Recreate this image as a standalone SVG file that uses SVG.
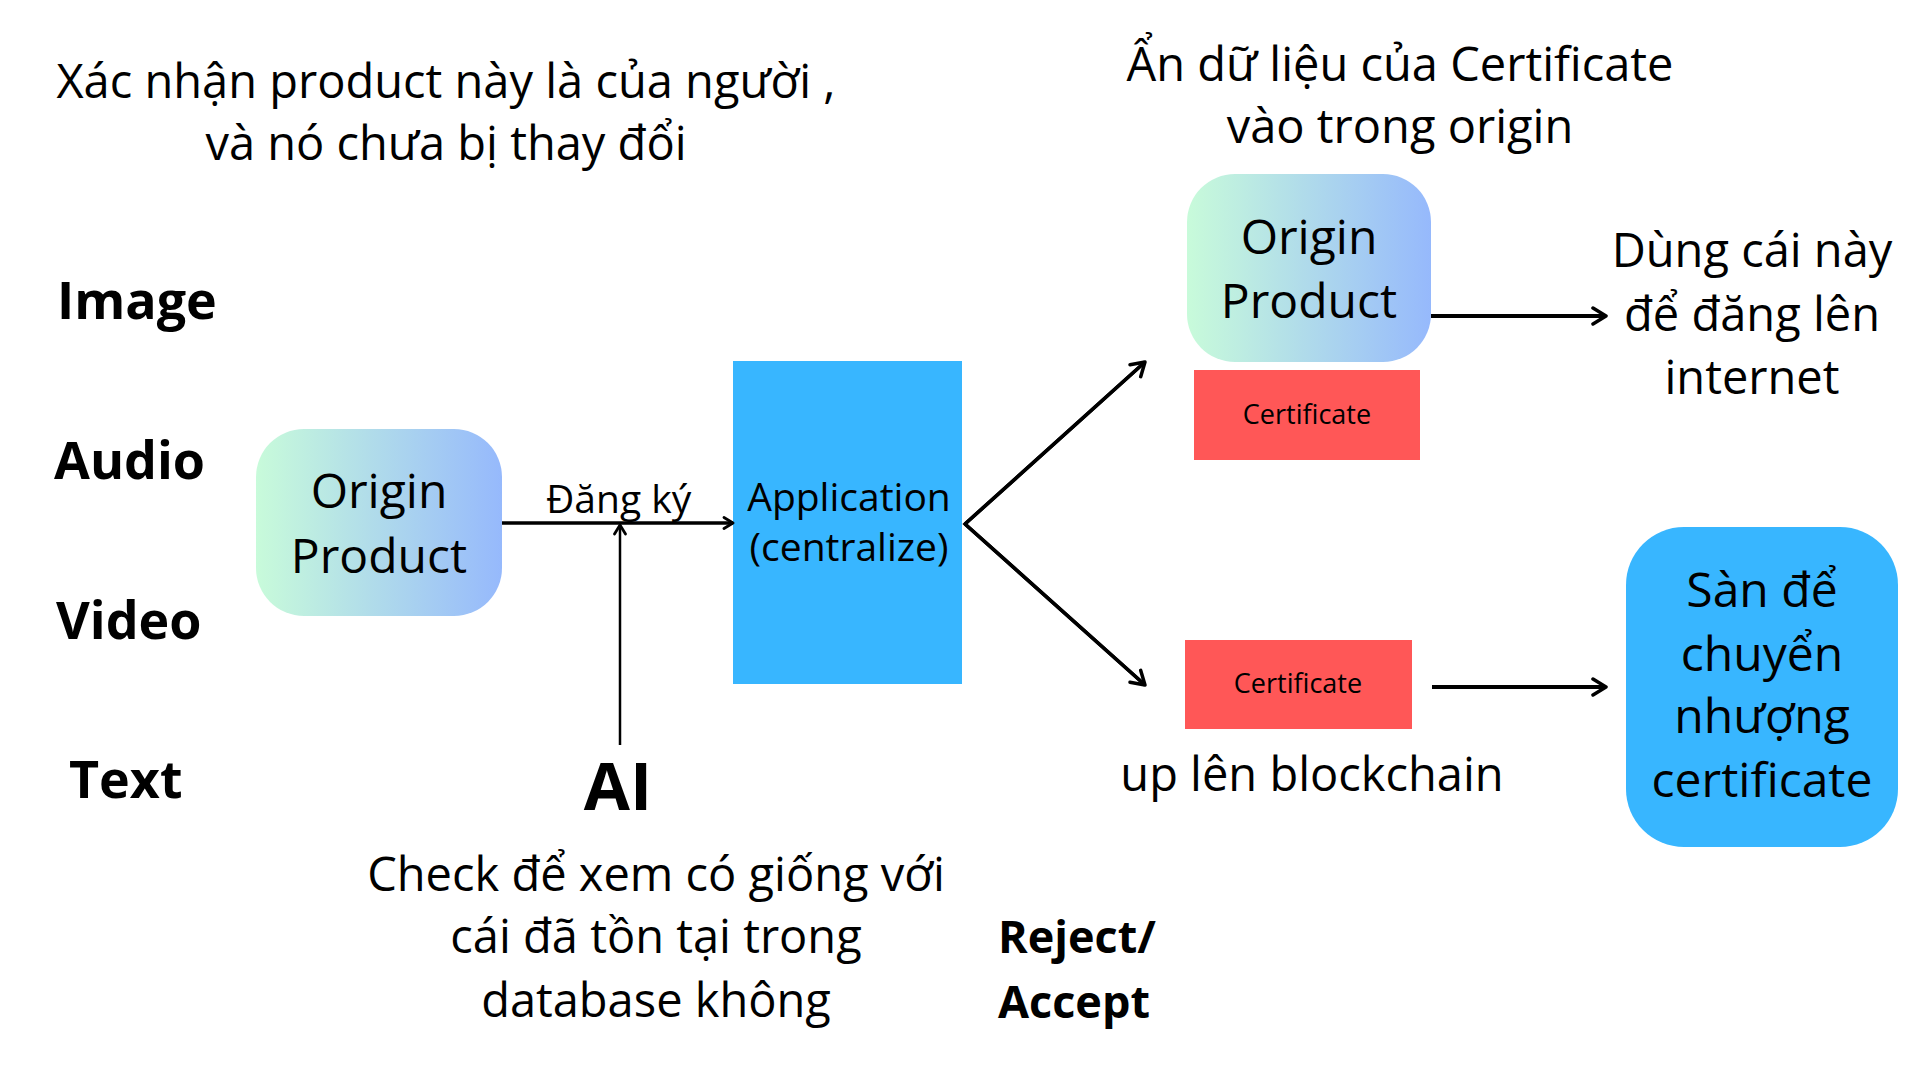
<svg xmlns="http://www.w3.org/2000/svg" width="1920" height="1080" viewBox="0 0 1920 1080">
<defs>
<linearGradient id="grad" x1="0" y1="0" x2="1" y2="0">
<stop offset="0" stop-color="#C8FBDA"/>
<stop offset="1" stop-color="#96B9FC"/>
</linearGradient>
<marker id="arr" viewBox="0 0 14 14" refX="12" refY="7" markerWidth="14" markerHeight="14" markerUnits="userSpaceOnUse" orient="auto">
<path d="M3,1.5 L12,7 L3,12.5" fill="none" stroke="#000" stroke-width="2.8" stroke-linecap="round" stroke-linejoin="round"/>
</marker>
<marker id="arrL" viewBox="0 0 20 20" refX="17" refY="10" markerWidth="20" markerHeight="20" markerUnits="userSpaceOnUse" orient="auto">
<path d="M4,2 L17,10 L4,18" fill="none" stroke="#000" stroke-width="3.5" stroke-linecap="round" stroke-linejoin="round"/>
</marker>
</defs>
<style>
text{font-family:"Open Sans","Noto Sans","DejaVu Sans",sans-serif;fill:#000}
.t{font-size:47px;text-anchor:middle}
.b{font-size:52px;font-weight:700}
.n{font-size:48px;text-anchor:middle}
.m{text-anchor:middle}
.c{font-size:27px;text-anchor:middle}
.ln{stroke:#000;fill:none}
</style>
<rect width="1920" height="1080" fill="#fff"/>
<g id="note-top-left">
<text class="t" x="446" y="98">Xác nhận product này là của người ,</text>
<text class="t" x="446" y="160">và nó chưa bị thay đổi</text>
</g>
<g id="note-top-right">
<text class="t" x="1400" y="81">Ẩn dữ liệu của Certificate</text>
<text class="t" x="1400" y="143">vào trong origin</text>
</g>
<g id="types">
<text class="b" x="57" y="319">Image</text>
<text class="b" x="54" y="479">Audio</text>
<text class="b" x="56" y="639">Video</text>
<text class="b" x="69" y="798">Text</text>
</g>
<g id="origin-left">
<rect x="256" y="429" width="246" height="187" rx="48" fill="url(#grad)"/>
<text class="n" x="379" y="508">Origin</text>
<text class="n" x="379" y="573">Product</text>
</g>
<g id="label-dang-ky">
<text style="font-size:39px" x="546" y="513">Đăng ký</text>
</g>
<g id="application">
<rect x="733" y="361" width="229" height="323" fill="#38B6FF"/>
<text class="m" style="font-size:39px" x="849" y="511">Application</text>
<text class="m" style="font-size:39px" x="849" y="561">(centralize)</text>
</g>
<g id="ai">
<text class="m" style="font-size:67px;font-weight:700" x="618" y="810">AI</text>
</g>
<g id="note-ai">
<text class="t" x="656" y="891">Check để xem có giống với</text>
<text class="t" x="656" y="953">cái đã tồn tại trong</text>
<text class="t" x="656" y="1017">database không</text>
</g>
<g id="reject-accept">
<text class="b" style="font-size:45px" x="998" y="953">Reject/</text>
<text class="b" style="font-size:45px" x="998" y="1018">Accept</text>
</g>
<g id="origin-right">
<rect x="1187" y="174" width="244" height="188" rx="48" fill="url(#grad)"/>
<text class="n" x="1309" y="254">Origin</text>
<text class="n" x="1309" y="318">Product</text>
</g>
<g id="certificate-top">
<rect x="1194" y="370" width="226" height="90" fill="#FF5757"/>
<text class="c" x="1307" y="424">Certificate</text>
</g>
<g id="certificate-bottom">
<rect x="1185" y="640" width="227" height="89" fill="#FF5757"/>
<text class="c" x="1298" y="693">Certificate</text>
</g>
<g id="note-internet">
<text class="t" x="1752" y="267">Dùng cái này</text>
<text class="t" x="1752" y="331">để đăng lên</text>
<text class="t" x="1752" y="394">internet</text>
</g>
<g id="note-blockchain">
<text class="t" x="1312" y="791">up lên blockchain</text>
</g>
<g id="marketplace">
<rect x="1626" y="527" width="272" height="320" rx="58" fill="#38B6FF"/>
<text class="n" x="1762" y="607">Sàn để</text>
<text class="n" x="1762" y="671">chuyển</text>
<text class="n" x="1762" y="733">nhượng</text>
<text class="n" x="1762" y="797">certificate</text>
</g>
<g id="connectors">
<line class="ln" x1="502" y1="523" x2="733" y2="523" stroke-width="3.5" marker-end="url(#arr)"/>
<line class="ln" x1="620" y1="745" x2="620" y2="525" stroke-width="2.5" marker-end="url(#arr)"/>
<polyline class="ln" points="1145,362 965,524 1145,685" stroke-width="3.5"/>
<line class="ln" x1="965" y1="524" x2="1145" y2="362" stroke-width="3.5" marker-end="url(#arrL)"/>
<line class="ln" x1="965" y1="524" x2="1145" y2="685" stroke-width="3.5" marker-end="url(#arrL)"/>
<line class="ln" x1="1431" y1="316" x2="1606" y2="316" stroke-width="4" marker-end="url(#arrL)"/>
<line class="ln" x1="1432" y1="687" x2="1606" y2="687" stroke-width="4" marker-end="url(#arrL)"/>
</g>
</svg>
